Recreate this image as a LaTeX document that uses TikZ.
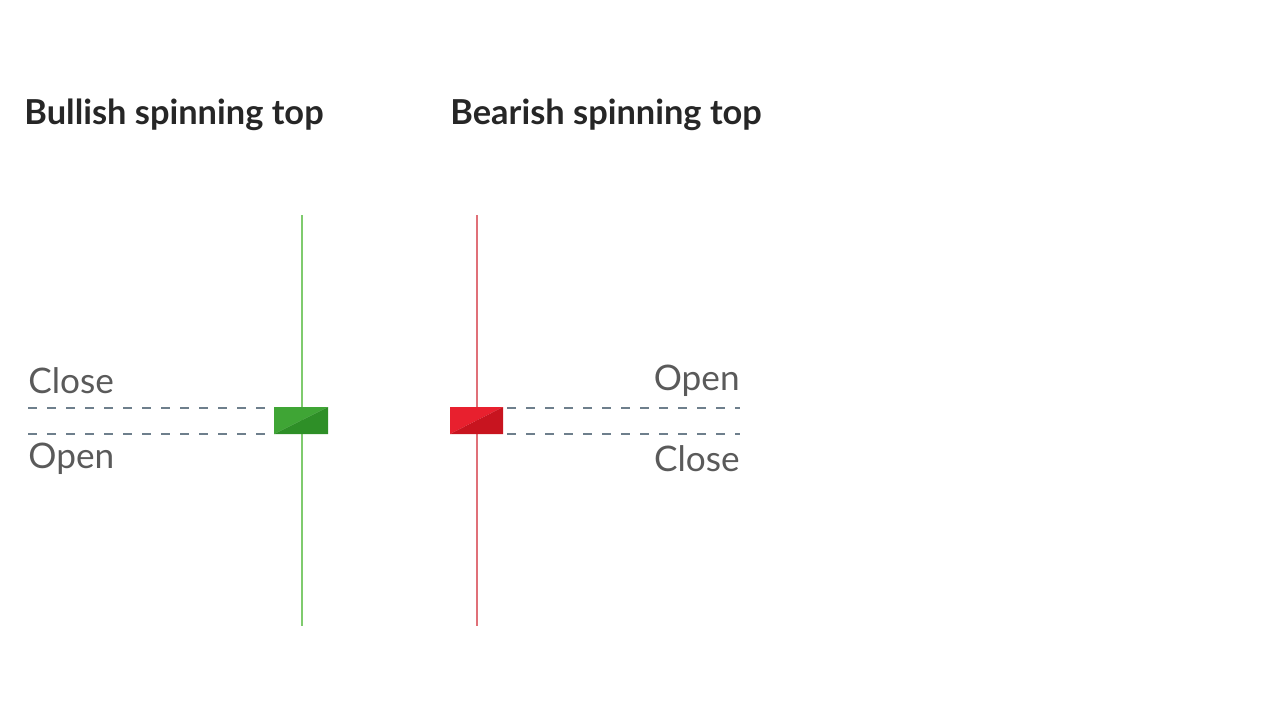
\documentclass[tikz,border=0pt]{standalone}
\usepackage{fontspec}
\setmainfont{Lato}
\definecolor{gup}{HTML}{3FA535}
\definecolor{gdn}{HTML}{2E8F27}
\definecolor{rup}{HTML}{E8202E}
\definecolor{rdn}{HTML}{C8141F}
\definecolor{gwick}{HTML}{7FCB6E}
\definecolor{rwick}{HTML}{E07078}
\definecolor{dashcol}{HTML}{6E7F8C}
\definecolor{lbl}{HTML}{5A5A5A}
\tikzset{
 title/.style={anchor=west,inner sep=0pt,font=\fontsize{17.2}{20}\selectfont\bfseries,text=black!85},
 lab/.style={inner sep=0pt,font=\fontsize{17.6}{20}\selectfont,text=lbl},
 dl/.style={draw=dashcol,line width=0.9pt,dash pattern=on 4.5pt off 5pt},
 wick/.style={line width=1pt}
}
\begin{document}
\begin{tikzpicture}[x=0.5pt,y=-0.5pt]
\useasboundingbox (0,0) rectangle (1280,720);
\node[title] (t1) at (24,115) {Bullish spinning top};
\node[title] (t2) at (450,115) {Bearish spinning top};
% bullish
\coordinate (gtop) at (302,215); \coordinate (gbot) at (302,626);
\draw[wick,gwick] (gtop) -- (gbot);
\draw[dl] (28,408) -- (270,408);
\draw[dl] (28,434) -- (270,434);
\fill[gup] (274,407) -- (328,407) -- (274,434) -- cycle;
\fill[gdn] (328,407) -- (328,434) -- (274,434) -- cycle;
\node[lab,anchor=west] (c1) at (28,381) {Close};
\node[lab,anchor=west] (o1) at (28,459) {Open};
% bearish
\coordinate (rtop) at (477,215); \coordinate (rbot) at (477,626);
\draw[wick,rwick] (rtop) -- (rbot);
\draw[dl] (507,408) -- (740,408);
\draw[dl] (507,434) -- (740,434);
\fill[rup] (450,407) -- (503,407) -- (450,434) -- cycle;
\fill[rdn] (503,407) -- (503,434) -- (450,434) -- cycle;
\node[lab,anchor=east] (o2) at (740,381) {Open};
\node[lab,anchor=east] (c2) at (740,459) {Close};
\end{tikzpicture}
\end{document}
